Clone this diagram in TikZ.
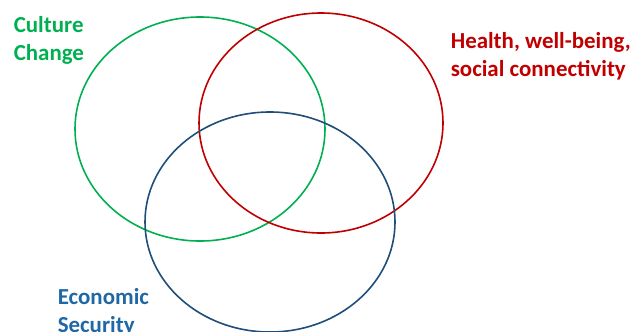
\documentclass[tikz,border=0pt]{standalone}
\usepackage{fontspec}
\setmainfont{Carlito}
\definecolor{cultgreen}{RGB}{0,176,80}
\definecolor{healthred}{RGB}{192,0,0}
\definecolor{econblue}{RGB}{31,78,121}
\definecolor{econtext}{RGB}{31,104,165}

\begin{document}
\begin{tikzpicture}[x=1bp, y=-1bp, line width=1.6bp,
    lbl/.style={anchor=base west, align=left, inner sep=0pt,
      font=\bfseries\fontsize{23}{28}\selectfont}]
  \useasboundingbox (0,0) rectangle (638,331);
  % the three sets
  \draw[cultgreen] (200,129) ellipse [x radius=125bp, y radius=112bp];
  \draw[healthred] (321,123) ellipse [x radius=122bp, y radius=110bp];
  \draw[econblue] (270,222) ellipse [x radius=125bp, y radius=110bp];
  % labels (anchored at the baseline of the last line)
  \node[lbl, text=cultgreen] (cult) at (13,60) {Culture\\Change};
  \node[lbl, text=healthred] (health) at (450,76) {Health, well-being,\\social connectivity};
  \node[lbl, text=econtext] (econ) at (57,332) {Economic\\Security};
\end{tikzpicture}
\end{document}
